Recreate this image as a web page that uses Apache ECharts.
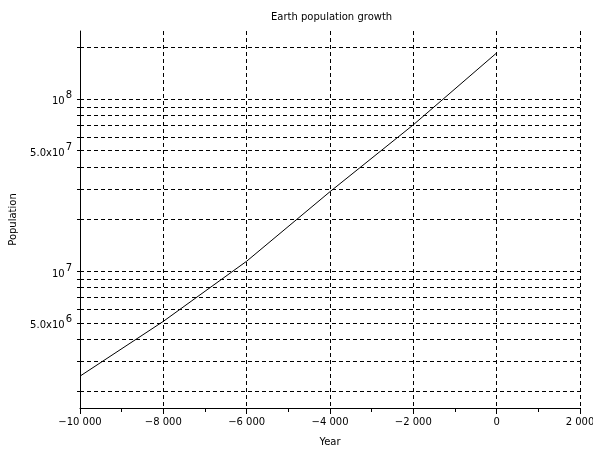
<!DOCTYPE html>
<html><head><meta charset="utf-8">
<script src="https://cdn.jsdelivr.net/npm/echarts@6/dist/echarts.min.js"></script>
<style>html,body{margin:0;padding:0;background:#fff}#c{width:593px;height:452px}</style>
</head><body><div id="c"></div>
<script>
var years = [-10000, -8000, -6000, -4000, -2000, 0];
var population = [2.45e6, 5.1e6, 1.14e7, 2.89e7, 7.07e7, 1.85e8];
var yGridValues = [2e6,3e6,4e6,5e6,6e6,7e6,8e6,9e6,1e7,2e7,3e7,4e7,5e7,6e7,7e7,8e7,9e7,1e8,2e8];
var yLabelValues = [5e6, 1e7, 5e7, 1e8];

var FONT = 'DejaVu Sans';
function fmtX(v){
  var s = Math.abs(v).toString();
  if (s.length > 3) s = s.slice(0, s.length-3) + ' ' + s.slice(s.length-3);
  return (v < 0 ? '\u2212' : '') + s;
}
function fmtY(v){
  var e = Math.floor(Math.log10(v) + 1e-9);
  var m = v / Math.pow(10, e);
  if (Math.abs(m - 1) < 1e-6) return '{b|10}{s|' + e + '}';
  return '{b|' + m.toFixed(1) + 'x10}{s|' + e + '}';
}
var chart = echarts.init(document.getElementById('c'));
var dash = [4, 3];
chart.setOption({
  animation: false,
  title: { text: 'Earth population growth', left: 266, top: 7,
    textStyle: { fontFamily: FONT, fontSize: 10, fontWeight: 'normal', color: '#000' } },
  grid: { left: 80, right: 13, top: 31, bottom: 44, containLabel: false, outerBoundsMode: 'none' },
  xAxis: {
    type: 'value', min: -10000, max: 2000, interval: 2000,
    name: 'Year', nameLocation: 'middle', nameGap: 29,
    nameTextStyle: { fontFamily: FONT, fontSize: 10, color: '#000' },
    axisLine: { show: true, onZero: false, lineStyle: { color: '#000', width: 1 } },
    axisTick: { show: true, length: 6, lineStyle: { color: '#000' } },
    minorTick: { show: true, splitNumber: 2, length: 4, lineStyle: { color: '#000' } },
    axisLabel: { fontFamily: FONT, fontSize: 10, color: '#000', margin: 9, formatter: fmtX },
    splitLine: { show: true, lineStyle: { color: '#000', type: dash, width: 1 } }
  },
  yAxis: {
    type: 'log', min: 1.6e6, max: 2.48e8,
    name: 'Population', nameLocation: 'middle', nameGap: 62, nameRotate: 90,
    nameTextStyle: { fontFamily: FONT, fontSize: 10, color: '#000' },
    axisLine: { show: true, onZero: false, lineStyle: { color: '#000', width: 1 } },
    axisTick: { show: true, length: 3, customValues: yGridValues, lineStyle: { color: '#000' } },
    axisLabel: { customValues: yLabelValues, margin: 8, formatter: fmtY, color: '#000',
      rich: {
        b: { fontFamily: FONT, fontSize: 10, color: '#000', padding: [6, 0, 0, 0] },
        s: { fontFamily: FONT, fontSize: 10, color: '#000', padding: [0, 0, 6, 1] }
      } },
    splitLine: { show: true, lineStyle: { color: '#000', type: dash, width: 1 } }
  },
  series: [{
    type: 'line', data: years.map(function(y, i){ return [y, population[i]]; }),
    showSymbol: false, symbol: 'none', lineStyle: { color: '#000', width: 1 }, silent: true
  }]
});
</script></body></html>
